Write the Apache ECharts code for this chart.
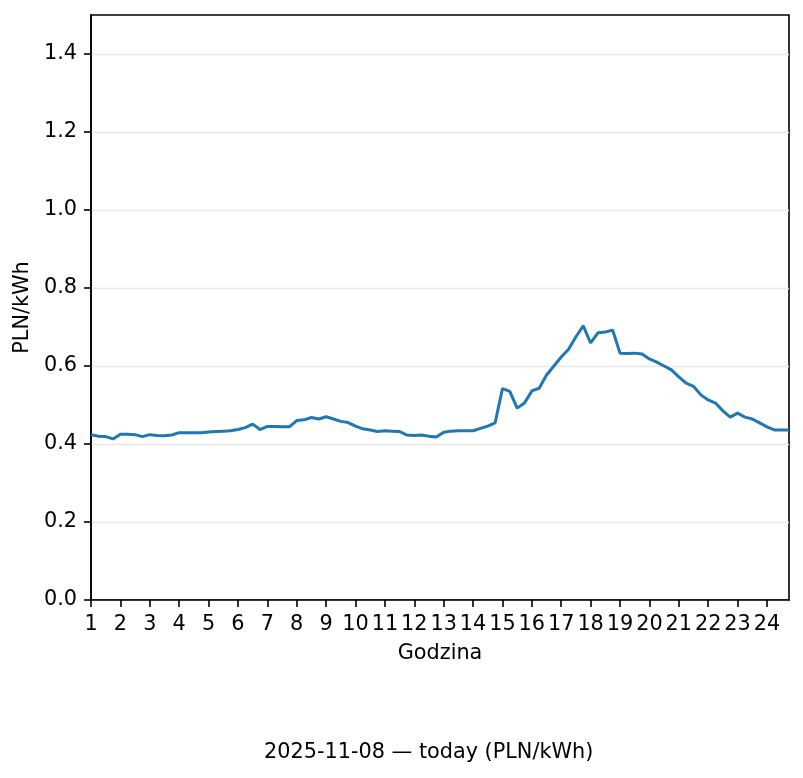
<!DOCTYPE html>
<html>
<head>
<meta charset="utf-8">
<script src="https://cdn.jsdelivr.net/npm/echarts@6/dist/echarts.min.js"></script>
<style>
html,body{margin:0;padding:0;background:#fff;}
#chart{width:803px;height:778px;}
</style>
</head>
<body>
<div id="chart"></div>
<script>
// Hour positions (15-minute resolution)
const hours = [
  1.00,1.25,1.50,1.75, 2.00,2.25,2.50,2.75, 3.00,3.25,3.50,3.75, 4.00,4.25,4.50,4.75,
  5.00,5.25,5.50,5.75, 6.00,6.25,6.50,6.75, 7.00,7.25,7.50,7.75, 8.00,8.25,8.50,8.75,
  9.00,9.25,9.50,9.75, 10.00,10.25,10.50,10.75, 11.00,11.25,11.50,11.75, 12.00,12.25,12.50,12.75,
  13.00,13.25,13.50,13.75, 14.00,14.25,14.50,14.75, 15.00,15.25,15.50,15.75, 16.00,16.25,16.50,16.75,
  17.00,17.25,17.50,17.75, 18.00,18.25,18.50,18.75, 19.00,19.25,19.50,19.75, 20.00,20.25,20.50,20.75,
  21.00,21.25,21.50,21.75, 22.00,22.25,22.50,22.75, 23.00,23.25,23.50,23.75, 24.00,24.25,24.50,24.75
];
// Price in PLN/kWh
const prices = [
  0.424,0.420,0.419,0.413, 0.425,0.425,0.424,0.419, 0.424,0.422,0.421,0.423, 0.429,0.429,0.429,0.429,
  0.431,0.432,0.433,0.434, 0.437,0.442,0.451,0.437, 0.445,0.445,0.444,0.444, 0.460,0.462,0.468,0.464,
  0.470,0.464,0.458,0.455, 0.446,0.439,0.436,0.432, 0.434,0.433,0.432,0.423, 0.422,0.423,0.420,0.418,
  0.430,0.433,0.434,0.434, 0.434,0.440,0.446,0.454, 0.542,0.535,0.492,0.505, 0.536,0.543,0.577,0.600,
  0.623,0.643,0.675,0.703, 0.659,0.685,0.687,0.692, 0.633,0.632,0.633,0.631, 0.618,0.610,0.600,0.590,
  0.572,0.556,0.548,0.526, 0.513,0.505,0.485,0.469, 0.479,0.469,0.464,0.454, 0.444,0.436,0.436,0.436
];
const xTicks = [1,2,3,4,5,6,7,8,9,10,11,12,13,14,15,16,17,18,19,20,21,22,23,24];
const yTicks = [0,0.2,0.4,0.6,0.8,1.0,1.2,1.4];
const titleText = '2025-11-08 — today (PLN/kWh)';
const xName = 'Godzina';
const yName = 'PLN/kWh';

const FONT = 'DejaVu Sans';
const FS = 20.8;

const chart = echarts.init(document.getElementById('chart'), null, {renderer:'canvas'});
chart.setOption({
  animation: false,
  backgroundColor: '#fff',
  textStyle: {fontFamily: FONT},
  title: {
    text: titleText,
    left: 264, top: 742,
    padding: 0,
    textStyle: {fontFamily: FONT, fontSize: FS, fontWeight: 'normal', color: '#000'}
  },
  grid: {
    left: 91, right: 14, top: 15, bottom: 178,
    show: true, borderColor: '#000', borderWidth: 1.6, backgroundColor: 'transparent'
  },
  xAxis: {
    type: 'value',
    min: 1, max: 24.75, interval: 1,
    name: xName, nameLocation: 'middle', nameGap: 43,
    nameTextStyle: {fontFamily: FONT, fontSize: FS, color: '#000'},
    axisLine: {show: true, onZero: false, lineStyle: {color: '#000', width: 1.6}},
    axisTick: {show: true, length: 7, customValues: xTicks, lineStyle: {color: '#000', width: 1.6}},
    axisLabel: {customValues: xTicks, margin: 14, fontFamily: FONT, fontSize: FS, color: '#000'},
    splitLine: {show: false}
  },
  yAxis: {
    type: 'value',
    min: 0, max: 1.5, interval: 0.2,
    name: yName, nameLocation: 'middle', nameGap: 52, nameRotate: 90,
    nameTextStyle: {fontFamily: FONT, fontSize: FS, color: '#000'},
    axisLine: {show: true, lineStyle: {color: '#000', width: 1.6}},
    axisTick: {show: true, length: 7, customValues: yTicks, lineStyle: {color: '#000', width: 1.6}},
    axisLabel: {customValues: yTicks, margin: 14, fontFamily: FONT, fontSize: FS, color: '#000',
      padding: [4, 0, 0, 0],
      formatter: v => v.toFixed(1)},
    splitLine: {show: true, lineStyle: {color: '#e8e8e8', width: 1.3}}
  },
  series: [{
    type: 'line',
    data: hours.map((h, i) => [h, prices[i]]),
    showSymbol: false,
    lineStyle: {color: '#1f77b4', width: 3},
    itemStyle: {color: '#1f77b4'},
    z: 3
  }]
});
</script>
</body>
</html>
